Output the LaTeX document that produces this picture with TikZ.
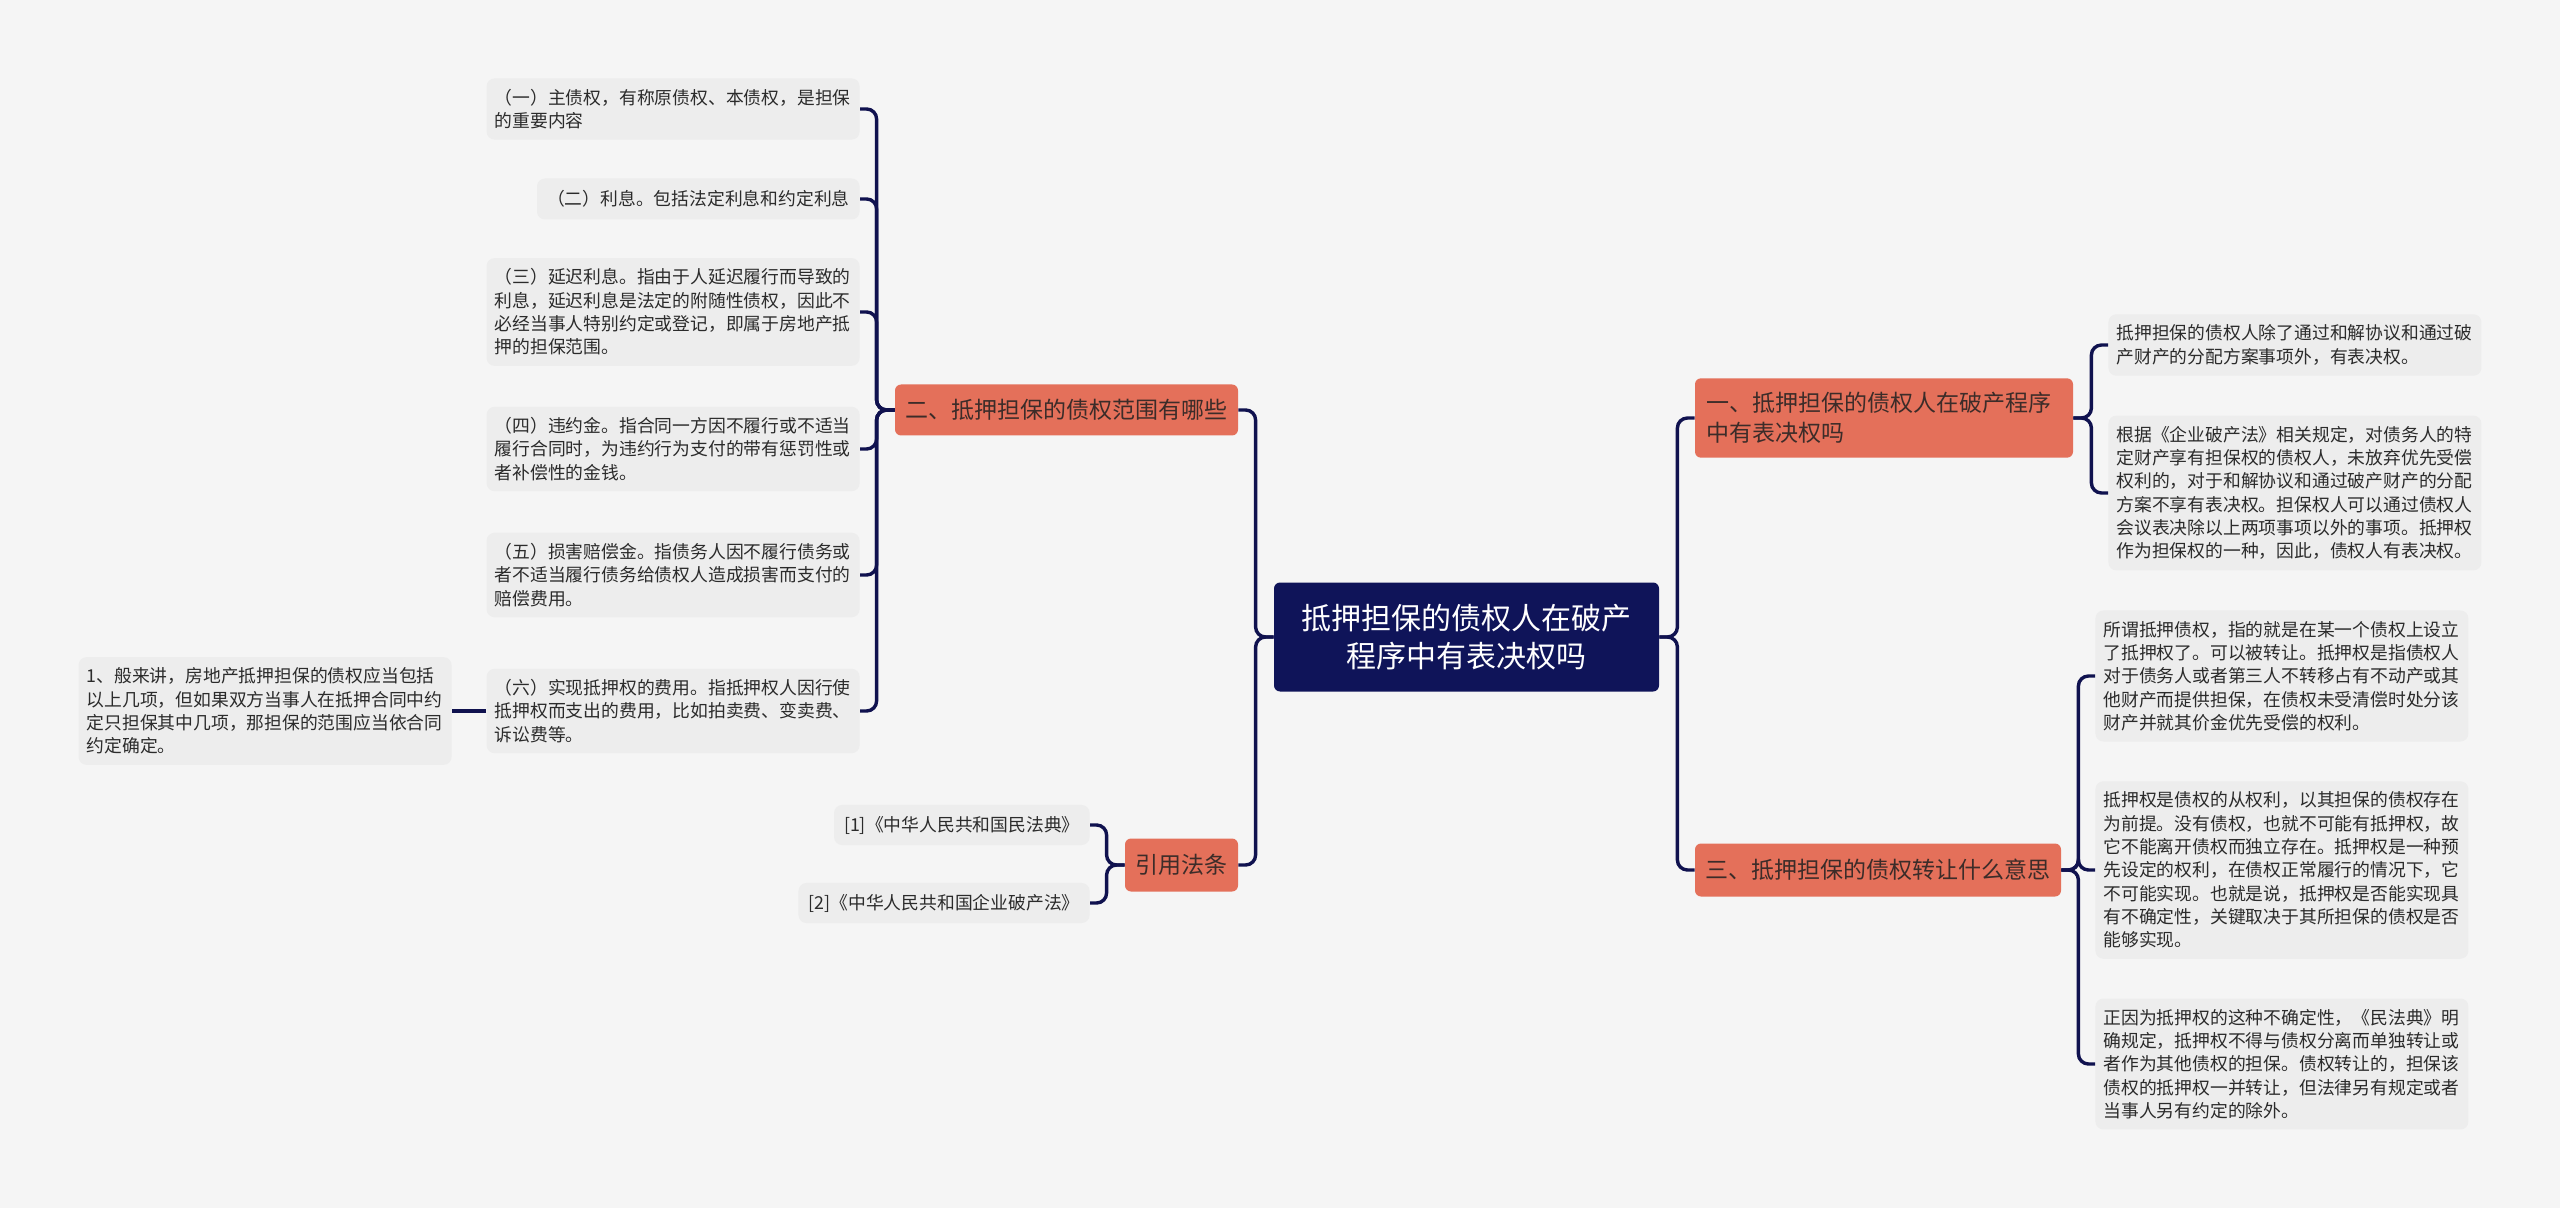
\documentclass[tikz,border=0pt]{standalone}
\usepackage{fontspec}
\usepackage{xcolor}
\usepackage{tikz}
\newfontfamily\cjk{Noto Sans CJK SC}
\definecolor{cbg}{HTML}{F5F5F5}
\definecolor{cleaf}{HTML}{EDEDED}
\definecolor{cleaftext}{HTML}{2B2B2B}
\definecolor{cbranch}{HTML}{E4705A}
\definecolor{cbranchtext}{HTML}{3C2C29}
\definecolor{croot}{HTML}{0F1459}
\definecolor{cline}{HTML}{10124F}

\begin{document}
\begin{tikzpicture}[
    x=0.5pt, y=-0.5pt,
    root/.style={fill=croot, text=white, rounded corners=3pt, align=center,
                 minimum width=192.5pt, minimum height=54.5pt,
                 font=\cjk\fontsize{15pt}{19pt}\selectfont},
    branch/.style={fill=cbranch, text=cbranchtext, rounded corners=3pt, align=left,
                   inner xsep=5pt, inner ysep=7pt,
                   font=\cjk\fontsize{11.5pt}{15pt}\selectfont},
    leaf/.style={fill=cleaf, text=cleaftext, rounded corners=4pt, align=left,
                 text width=178.5pt, inner xsep=4pt, inner ysep=5.3pt,
                 font=\cjk\fontsize{8.9pt}{11.65pt}\selectfont},
    cite/.style={fill=cleaf, text=cleaftext, rounded corners=4pt,
                 inner xsep=5pt, inner ysep=5.5pt,
                 font=\cjk\fontsize{8.9pt}{11.65pt}\selectfont},
    link/.style={draw=cline, line width=1.7pt, rounded corners=5pt}
]
\fill[cbg] (0,0) rectangle (2560,1208);
\useasboundingbox (0,0) rectangle (2560,1208);

% centre
\node[root] (top) at (1466.5,637) {抵押担保的债权人在破产\\程序中有表决权吗};

% left side
\node[branch, minimum width=171.5pt, minimum height=25.5pt, align=center] (scope) at (1066.5,410) {二、抵押担保的债权范围有哪些};
\node[branch, minimum width=56.5pt, minimum height=26.5pt, align=center] (law) at (1181.5,865) {引用法条};

\node[leaf, anchor=east] (sc1) at (860,109) {（一）主债权，有称原债权、本债权，是担保\\的重要内容};
\node[cite, anchor=east, minimum height=20.5pt] (sc2) at (860,199) {（二）利息。包括法定利息和约定利息};
\node[leaf, anchor=east] (sc3) at (860,312) {（三）延迟利息。指由于人延迟履行而导致的\\利息，延迟利息是法定的附随性债权，因此不\\必经当事人特别约定或登记，即属于房地产抵\\押的担保范围。};
\node[leaf, anchor=east] (sc4) at (860,449) {（四）违约金。指合同一方因不履行或不适当\\履行合同时，为违约行为支付的带有惩罚性或\\者补偿性的金钱。};
\node[leaf, anchor=east] (sc5) at (860,575) {（五）损害赔偿金。指债务人因不履行债务或\\者不适当履行债务给债权人造成损害而支付的\\赔偿费用。};
\node[leaf, anchor=east] (sc6) at (860,711) {（六）实现抵押权的费用。指抵押权人因行使\\抵押权而支出的费用，比如拍卖费、变卖费、\\诉讼费等。};
\node[leaf, anchor=east] (note) at (452,711) {1、般来讲，房地产抵押担保的债权应当包括\\以上几项，但如果双方当事人在抵押合同中约\\定只担保其中几项，那担保的范围应当依合同\\约定确定。};

\node[cite, anchor=east] (law1) at (1090,825) {[1]《中华人民共和国民法典》};
\node[cite, anchor=east] (law2) at (1090,903) {[2]《中华人民共和国企业破产法》};

% right side
\node[branch, text width=178pt, minimum width=189pt] (vote) at (1884,418) {一、抵押担保的债权人在破产程序\\中有表决权吗};
\node[branch, minimum width=183pt, minimum height=26.5pt, align=center] (move) at (1878,870) {三、抵押担保的债权转让什么意思};

\node[leaf, anchor=west] (vo1) at (2108,345) {抵押担保的债权人除了通过和解协议和通过破\\产财产的分配方案事项外，有表决权。};
\node[leaf, anchor=west] (vo2) at (2108,493) {根据《企业破产法》相关规定，对债务人的特\\定财产享有担保权的债权人，未放弃优先受偿\\权利的，对于和解协议和通过破产财产的分配\\方案不享有表决权。担保权人可以通过债权人\\会议表决除以上两项事项以外的事项。抵押权\\作为担保权的一种，因此，债权人有表决权。};

\node[leaf, anchor=west] (mv1) at (2095,676) {所谓抵押债权，指的就是在某一个债权上设立\\了抵押权了。可以被转让。抵押权是指债权人\\对于债务人或者第三人不转移占有不动产或其\\他财产而提供担保，在债权未受清偿时处分该\\财产并就其价金优先受偿的权利。};
\node[leaf, anchor=west] (mv2) at (2095,870) {抵押权是债权的从权利，以其担保的债权存在\\为前提。没有债权，也就不可能有抵押权，故\\它不能离开债权而独立存在。抵押权是一种预\\先设定的权利，在债权正常履行的情况下，它\\不可能实现。也就是说，抵押权是否能实现具\\有不确定性，关键取决于其所担保的债权是否\\能够实现。};
\node[leaf, anchor=west] (mv3) at (2095,1064) {正因为抵押权的这种不确定性，《民法典》明\\确规定，抵押权不得与债权分离而单独转让或\\者作为其他债权的担保。债权转让的，担保该\\债权的抵押权一并转让，但法律另有规定或者\\当事人另有约定的除外。};

% connectors
\draw[link] (top.west) -- ++(-18,0) |- (scope.east);
\draw[link] (top.west) -- ++(-18,0) |- (law.east);
\draw[link] (top.east) -- ++(18,0) |- (vote.west);
\draw[link] (top.east) -- ++(18,0) |- (move.west);

\draw[link] (scope.west) -- ++(-18,0) |- (sc1.east);
\draw[link] (scope.west) -- ++(-18,0) |- (sc2.east);
\draw[link] (scope.west) -- ++(-18,0) |- (sc3.east);
\draw[link] (scope.west) -- ++(-18,0) |- (sc4.east);
\draw[link] (scope.west) -- ++(-18,0) |- (sc5.east);
\draw[link] (scope.west) -- ++(-18,0) |- (sc6.east);
\draw[link] (sc6.west) -- (note.east);

\draw[link] (law.west) -- ++(-18,0) |- (law1.east);
\draw[link] (law.west) -- ++(-18,0) |- (law2.east);

\draw[link] (vote.east) -- ++(18,0) |- (vo1.west);
\draw[link] (vote.east) -- ++(18,0) |- (vo2.west);

\draw[link] (move.east) -- ++(17,0) |- (mv1.west);
\draw[link] (move.east) -- ++(17,0) |- (mv2.west);
\draw[link] (move.east) -- ++(17,0) |- (mv3.west);
\end{tikzpicture}
\end{document}
